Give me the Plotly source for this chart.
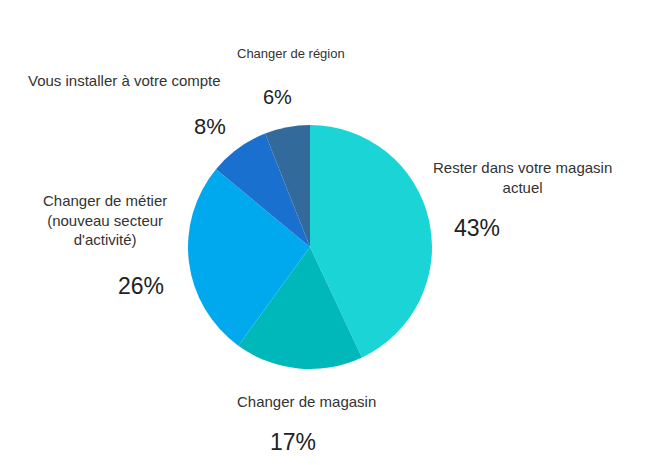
import math
import plotly.graph_objects as go

# Données du graphique
categories = [
    "Rester dans votre magasin actuel",
    "Changer de magasin",
    "Changer de métier (nouveau secteur d'activité)",
    "Vous installer à votre compte",
    "Changer de région",
]
wrapped_labels = [
    "Rester dans votre magasin<br>actuel",
    "Changer de magasin",
    "Changer de métier<br>(nouveau secteur<br>d'activité)",
    "Vous installer à votre compte",
    "Changer de région",
]
values = [43, 17, 26, 8, 6]
colors = ["#1ad4d6", "#00b8ba", "#00a9ee", "#1a70cf", "#336a9c"]

# tailles de police des étiquettes (nom / pourcentage)
name_sizes = [15, 15, 15, 15, 13]
pct_sizes = [23, 23, 23, 22, 20]

W, H = 665, 465
CX, CY, R = 302, 239, 122          # centre et rayon du camembert (px, hors marge du body)
LABEL_R = 1.4 * R                  # distance radiale des pourcentages
FONT = "Liberation Sans, Arial, sans-serif"

fig = go.Figure(
    go.Pie(
        labels=categories,
        values=values,
        sort=False,
        direction="clockwise",
        rotation=0,
        marker=dict(colors=colors, line=dict(width=0)),
        textinfo="none",
        showlegend=False,
        hoverinfo="label+percent",
        domain=dict(x=[(CX - R) / W, (CX + R) / W],
                    y=[1 - (CY + R) / H, 1 - (CY - R) / H]),
    )
)

# étiquettes extérieures placées à l'angle médian de chaque part
total = sum(values)
cum = 0
for name, v, ns, ps in zip(wrapped_labels, values, name_sizes, pct_sizes):
    theta = 2 * math.pi * (cum + v / 2) / total
    cum += v
    s, c = math.sin(theta), math.cos(theta)
    r = LABEL_R if c > -0.9 else LABEL_R + 7
    px = (CX + r * s) / W
    py = 1 - (CY - r * c) / H
    pct = f"{round(100 * v / total)}%"

    fig.add_annotation(
        x=px, y=py, xref="paper", yref="paper",
        text=pct, showarrow=False,
        xanchor="center", yanchor="middle", yshift=-18,
        font=dict(family=FONT, size=ps, color="#222222"),
    )

    if s > 0.5:
        xa, xs, ys = "left", -46, 12
    elif s < -0.5:
        xa, xs, ys = "right", -8 - 37 * s, 18
    else:
        xa, xs, ys = "center", 13, 16 if c > 0 else 12
    fig.add_annotation(
        x=px, y=py, xref="paper", yref="paper",
        text=name, showarrow=False, align="center",
        xanchor=xa, yanchor="bottom", xshift=xs, yshift=ys,
        font=dict(family=FONT, size=ns, color="#333333"),
    )

fig.update_layout(
    width=W,
    height=H,
    margin=dict(l=0, r=0, t=0, b=0),
    paper_bgcolor="white",
    plot_bgcolor="white",
)

fig.write_html("out.html")
